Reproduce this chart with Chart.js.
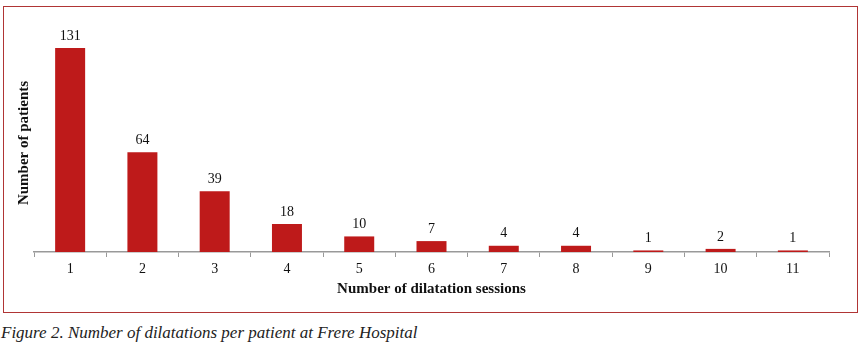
<!DOCTYPE html>
<html>
<head>
  <title>Dilatation sessions</title>
  <script src="https://cdn.jsdelivr.net/npm/chart.js"></script>
  <style>
    body {
        margin: 0;
        background: #fff;
        width: 863px;
        height: 346px;
        position: relative;
        overflow: hidden;
    }
    #frame {
        position: absolute;
        left: 3px;
        top: 6px;
        width: 853px;
        height: 305px;
        border: 1.5px solid #b03535;
    }
    #wrap {
        position: absolute;
        left: 0;
        top: 0;
        width: 863px;
        height: 320px;
    }
    #caption {
        position: absolute;
        left: 1px;
        top: 323px;
        font-family: "Liberation Serif", serif;
        font-style: italic;
        font-size: 17px;
        color: #222;
    }
  </style>
</head>
<body>
    <div id="frame"></div>
    <div id="wrap"><canvas id="myChart" width="863" height="320"></canvas></div>
    <div id="caption">Figure 2. Number of dilatations per patient at Frere Hospital</div>

    <script>
        const sessions = ['1', '2', '3', '4', '5', '6', '7', '8', '9', '10', '11'];
        const patients = [131, 64, 39, 18, 10, 7, 4, 4, 1, 2, 1];

        // numbers above the bars
        const valueLabels = {
            id: 'valueLabels',
            afterDatasetsDraw(chart) {
                const ctx = chart.ctx;
                const meta = chart.getDatasetMeta(0);
                ctx.save();
                ctx.font = '14px "Liberation Serif"';
                ctx.fillStyle = '#111';
                ctx.textAlign = 'center';
                ctx.textBaseline = 'bottom';
                meta.data.forEach((bar, i) => {
                    ctx.fillText(patients[i], bar.x, bar.y - 5);
                });
                ctx.restore();
            }
        };

        const ctx = document.getElementById('myChart').getContext('2d');
        new Chart(ctx, {
            type: 'bar',
            data: {
                labels: sessions,
                datasets: [{
                    data: patients,
                    backgroundColor: '#be1a1a',
                    categoryPercentage: 1,
                    barPercentage: 0.415
                }]
            },
            options: {
                responsive: false,
                animation: false,
                layout: { padding: { left: 0, right: 34, top: 34, bottom: 18 } },
                plugins: {
                    legend: { display: false },
                    tooltip: { enabled: false }
                },
                scales: {
                    x: {
                        offset: true,
                        grid: {
                            display: true,
                            drawOnChartArea: false,
                            offset: true,
                            tickLength: 5,
                            color: '#999'
                        },
                        border: { color: '#999', width: 1.5 },
                        ticks: {
                            color: '#111',
                            padding: 4,
                            font: { family: 'Liberation Serif', size: 14 }
                        },
                        title: {
                            display: true,
                            text: 'Number of dilatation sessions',
                            color: '#111',
                            padding: { top: 0, bottom: 4 },
                            font: { family: 'Liberation Serif', size: 15, weight: 'bold' }
                        },
                        afterFit(scale) { scale.height = 50; }
                    },
                    y: {
                        min: 0,
                        max: 140,
                        grid: { display: false },
                        border: { display: false },
                        ticks: { display: false },
                        title: {
                            display: true,
                            text: 'Number of patients',
                            color: '#111',
                            padding: { top: 15, bottom: 0 },
                            font: { family: 'Liberation Serif', size: 15, weight: 'bold' }
                        },
                        afterFit(scale) { scale.width = 34; }
                    }
                }
            },
            plugins: [valueLabels]
        });
    </script>
</body>
</html>
